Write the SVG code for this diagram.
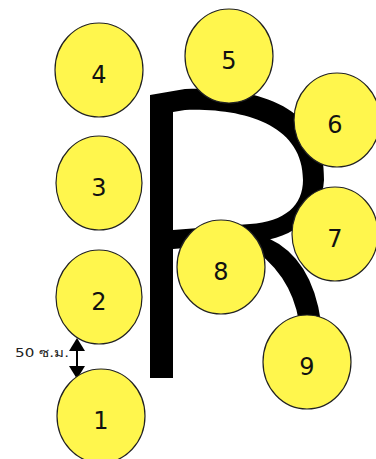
<svg xmlns="http://www.w3.org/2000/svg" width="376" height="459" viewBox="0 0 376 459">
<style>
.c{fill:#fff64d;stroke:#222;stroke-width:1.2}
.n{font-family:"DejaVu Sans","Noto Sans",sans-serif;font-size:24px;fill:#111;text-anchor:middle}
.lbl{font-family:"DejaVu Sans","Noto Sans",sans-serif;font-size:12px;fill:#222}
</style>
<rect width="376" height="459" fill="#fff"/>
<g id="letter-R">
<path fill="#000" fill-rule="evenodd" d="M150,95 L185,89 C260,86 326,108 324,180 C322,215 295,238 255,242 L173,249 L173,378 L150,378 Z M173,112 L185,110 C245,108 303,125 303,180 C303,205 285,222 250,224 L173,230 Z"/>
<path fill="#000" d="M248,234 L268,238 Q312,258 321,322 L299,322 Q291,272 246,244 Z"/>
</g>
<g id="connectors">
<line x1="77" y1="350" x2="77" y2="367" stroke="#000" stroke-width="2"/>
<polygon points="77,338 69,351 85,351" fill="#000"/>
<polygon points="77,379 69,366 85,366" fill="#000"/>
</g>
<g id="label"><text class="lbl" x="15" y="357" textLength="54" lengthAdjust="spacingAndGlyphs">50 ซ.ม.</text></g>
<g id="n1"><ellipse class="c" cx="101" cy="416" rx="44" ry="47"/><text class="n" x="101" y="429">1</text></g>
<g id="n2"><ellipse class="c" cx="99" cy="297" rx="43" ry="47"/><text class="n" x="99" y="310">2</text></g>
<g id="n3"><ellipse class="c" cx="99" cy="183" rx="43" ry="47"/><text class="n" x="99" y="196">3</text></g>
<g id="n4"><ellipse class="c" cx="99" cy="70" rx="44" ry="47"/><text class="n" x="99" y="83">4</text></g>
<g id="n5"><ellipse class="c" cx="229" cy="56" rx="44" ry="47"/><text class="n" x="229" y="69">5</text></g>
<g id="n6"><ellipse class="c" cx="337" cy="120" rx="43" ry="47"/><text class="n" x="335" y="133">6</text></g>
<g id="n7"><ellipse class="c" cx="335" cy="234" rx="43" ry="47"/><text class="n" x="335" y="247">7</text></g>
<g id="n8"><ellipse class="c" cx="221" cy="267" rx="44" ry="47"/><text class="n" x="221" y="280">8</text></g>
<g id="n9"><ellipse class="c" cx="307" cy="362" rx="44" ry="47"/><text class="n" x="307" y="375">9</text></g>
</svg>
